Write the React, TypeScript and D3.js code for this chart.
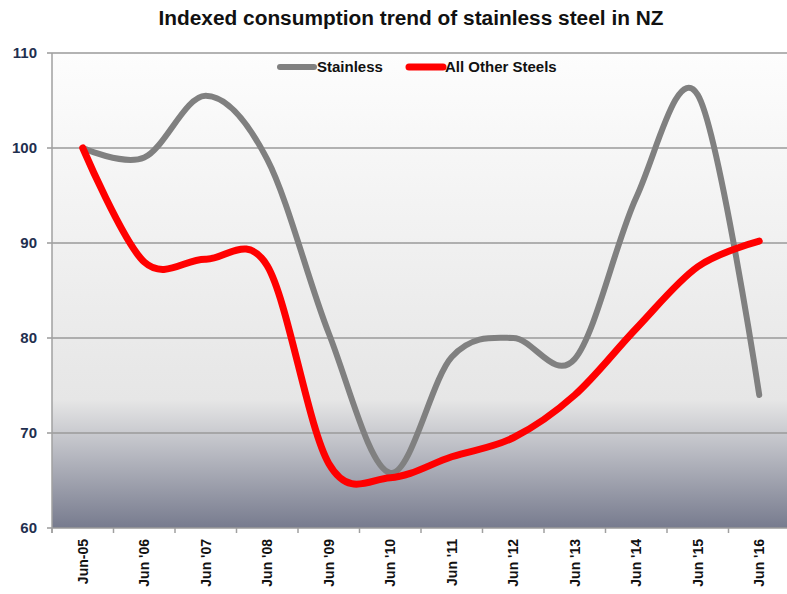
import React from "react";
import * as d3 from "d3";

const categories = ["Jun-05", "Jun '06", "Jun '07", "Jun '08", "Jun '09", "Jun '10", "Jun '11", "Jun '12", "Jun '13", "Jun '14", "Jun '15", "Jun '16"];
const stainless = [100, 99, 105.5, 98.8, 80.5, 65.8, 78, 80, 77.8, 94.8, 105.6, 74];
const otherSteels = [100, 88, 88.3, 87.6, 66.8, 65.3, 67.5, 69.5, 74, 81, 87.5, 90.2];
const yTicks = [60, 70, 80, 90, 100, 110];
const seriesNames = ["Stainless", "All Other Steels"];

const W = 787, H = 594;
const left = 52, top = 53, bottom = 528, right = 790;

export default function App() {
  const x = d3.scaleBand<string>().domain(categories).range([left, right]).padding(0);
  const y = d3.scaleLinear().domain([60, 110]).range([bottom, top]);
  const cx = (c: string) => (x(c) as number) + x.bandwidth() / 2;
  const line = d3
    .line<number>()
    .x((_, i) => cx(categories[i]))
    .y((v) => y(v))
    .curve(d3.curveCardinal.tension(0));

  const font = "'Liberation Sans', Arial, sans-serif";
  const labelColor = "#1f2f4f";

  return (
    <svg width={W} height={H} style={{ position: "absolute", left: 0, top: 0, background: "#fff" }}>
      <defs>
        <linearGradient id="bg" x1="0" y1="0" x2="0" y2="1">
          <stop offset="0" stopColor="#fdfdfd" />
          <stop offset="0.73" stopColor="#e6e6e6" />
          <stop offset="1" stopColor="#777b8e" />
        </linearGradient>
      </defs>
      <text x={411} y={25} textAnchor="middle" fontFamily={font} fontWeight="bold" fontSize={20} textLength={505} lengthAdjust="spacingAndGlyphs" fill="#111">
        Indexed consumption trend of stainless steel in NZ
      </text>
      <rect x={left} y={top} width={right - left} height={bottom - top} fill="url(#bg)" />
      {yTicks.map((t) => (
        <g key={t}>
          <line x1={left - 5} x2={W} y1={y(t)} y2={y(t)} stroke="#9a9a9a" strokeWidth={1.5} />
          <text x={37} y={y(t) + 5} textAnchor="end" fontFamily={font} fontWeight="bold" fontSize={15} fill={labelColor}>
            {t}
          </text>
        </g>
      ))}
      <line x1={left} x2={left} y1={top} y2={bottom + 5} stroke="#a0a0a0" strokeWidth={1.5} />
      {categories.map((c) => (
        <line key={"t" + c} x1={x(c) as number} x2={x(c) as number} y1={bottom} y2={bottom + 5} stroke="#a0a0a0" strokeWidth={1.5} />
      ))}
      {categories.map((c) => (
        <text
          key={c}
          transform={`translate(${cx(c) + 5},${539}) rotate(-90)`}
          textAnchor="end"
          fontFamily={font}
          fontWeight="bold"
          fontSize={14}
          fill="#111"
        >
          {c}
        </text>
      ))}
      <path d={line(stainless) as string} fill="none" stroke="#808080" strokeWidth={6} strokeLinecap="round" />
      <path d={line(otherSteels) as string} fill="none" stroke="#ff0000" strokeWidth={7} strokeLinecap="round" />
      <line x1={280} x2={314} y1={67} y2={67} stroke="#808080" strokeWidth={6} strokeLinecap="round" />
      <text x={317} y={72} fontFamily={font} fontWeight="bold" fontSize={15} fill="#111">
        {seriesNames[0]}
      </text>
      <line x1={409} x2={443} y1={67} y2={67} stroke="#ff0000" strokeWidth={7} strokeLinecap="round" />
      <text x={445} y={72} fontFamily={font} fontWeight="bold" fontSize={15} fill="#111">
        {seriesNames[1]}
      </text>
    </svg>
  );
}
